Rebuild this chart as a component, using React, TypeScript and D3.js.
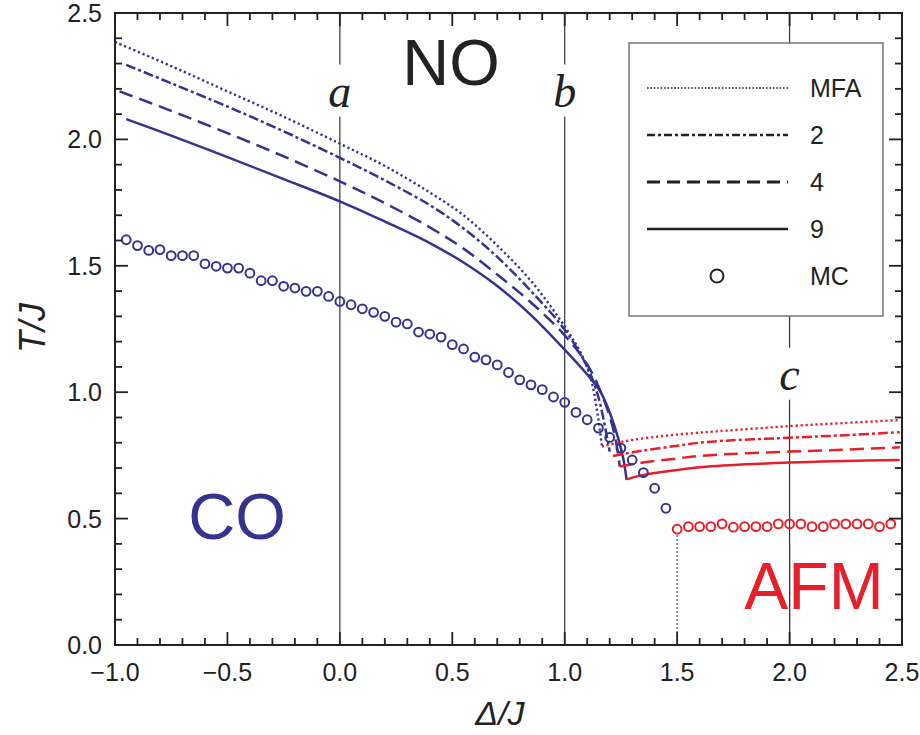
import React from 'react';
import * as d3 from 'd3';

// [Δ/J, T/J]
const mfaBlue = [[-1.0, 2.385], [-0.75, 2.29], [-0.5, 2.19], [-0.25, 2.09], [0, 1.983], [0.2, 1.895], [0.4, 1.79], [0.55, 1.7], [0.7, 1.58], [0.85, 1.44], [1.0, 1.26], [1.08, 1.14], [1.12, 1.04], [1.145, 0.92], [1.165, 0.79]];
const n2Blue = [[-0.95, 2.295], [-0.75, 2.222], [-0.5, 2.13], [-0.25, 2.032], [0, 1.927], [0.2, 1.838], [0.4, 1.74], [0.55, 1.648], [0.7, 1.535], [0.85, 1.4], [1.0, 1.247], [1.1, 1.1], [1.15, 0.98], [1.2, 0.765]];
const n4Blue = [[-0.98, 2.19], [-0.75, 2.113], [-0.5, 2.025], [-0.25, 1.933], [0, 1.834], [0.2, 1.748], [0.4, 1.652], [0.55, 1.568], [0.7, 1.465], [0.85, 1.355], [1.0, 1.225], [1.1, 1.11], [1.17, 0.98], [1.22, 0.84], [1.245, 0.706]];
const n9Blue = [[-0.95, 2.08], [-0.75, 2.015], [-0.5, 1.93], [-0.25, 1.843], [0, 1.755], [0.2, 1.675], [0.4, 1.59], [0.55, 1.513], [0.7, 1.42], [0.85, 1.305], [1.0, 1.168], [1.1, 1.07], [1.16, 1.0], [1.22, 0.87], [1.26, 0.74], [1.275, 0.653]];

const mfaRed = [[1.165, 0.785], [1.26, 0.805], [1.42, 0.825], [1.57, 0.838], [1.72, 0.848], [2.0, 0.866], [2.24, 0.878], [2.49, 0.89]];
const n2Red = [[1.215, 0.748], [1.334, 0.767], [1.5, 0.788], [1.63, 0.803], [2.0, 0.82], [2.25, 0.83], [2.49, 0.842]];
const n4Red = [[1.245, 0.706], [1.334, 0.72], [1.5, 0.738], [1.63, 0.75], [2.0, 0.765], [2.25, 0.773], [2.49, 0.782]];
const n9Red = [[1.275, 0.655], [1.35, 0.673], [1.48, 0.69], [1.63, 0.705], [2.0, 0.722], [2.25, 0.728], [2.49, 0.732]];

const mcBlue = [[-0.95, 1.603], [-0.9, 1.58], [-0.85, 1.561], [-0.8, 1.564], [-0.75, 1.54], [-0.7, 1.54], [-0.65, 1.54], [-0.6, 1.508], [-0.55, 1.498], [-0.5, 1.491], [-0.45, 1.491], [-0.4, 1.471], [-0.35, 1.441], [-0.3, 1.441], [-0.25, 1.419], [-0.2, 1.412], [-0.15, 1.399], [-0.1, 1.399], [-0.05, 1.379], [0.0, 1.359], [0.05, 1.346], [0.1, 1.33], [0.15, 1.316], [0.2, 1.3], [0.25, 1.277], [0.3, 1.27], [0.35, 1.238], [0.4, 1.23], [0.45, 1.218], [0.5, 1.188], [0.55, 1.171], [0.6, 1.139], [0.65, 1.128], [0.7, 1.108], [0.75, 1.078], [0.8, 1.049], [0.85, 1.029], [0.9, 1.01], [0.95, 0.981], [1.0, 0.96], [1.05, 0.92], [1.1, 0.891], [1.15, 0.858], [1.2, 0.821], [1.25, 0.779], [1.3, 0.732], [1.35, 0.682], [1.4, 0.62], [1.45, 0.541]];
const mcRed = [[1.5, 0.458], [1.55, 0.468], [1.6, 0.468], [1.65, 0.468], [1.7, 0.479], [1.75, 0.466], [1.8, 0.468], [1.85, 0.468], [1.9, 0.468], [1.95, 0.479], [2.0, 0.479], [2.05, 0.479], [2.1, 0.468], [2.15, 0.468], [2.2, 0.479], [2.25, 0.479], [2.3, 0.479], [2.35, 0.479], [2.4, 0.468], [2.45, 0.479]];

const xTicks = [-1.0, -0.5, 0.0, 0.5, 1.0, 1.5, 2.0, 2.5];
const yTicks = [0.0, 0.5, 1.0, 1.5, 2.0, 2.5];
// vertical guides, label baseline given in T/J units
const markers = [{ x: 0, label: 'a', y: 2.13 }, { x: 1, label: 'b', y: 2.13 }, { x: 2, label: 'c', y: 1.01 }];
const legendItems = ['MFA', '2', '4', '9', 'MC'];

const BLUE = '#35338f';
const RED = '#e5202b';
const INK = '#222';
const SANS = '"Liberation Sans", Arial, sans-serif';
const SERIF = '"Liberation Serif", "Times New Roman", serif';

const styles = [
  { dash: '2.2,2.8', width: 2.4, lw: 1.6, ldash: '1.6,1.8' },
  { dash: '10,3,3,3', width: 2.5, lw: 2.6, ldash: '8,3,3,3' },
  { dash: '14,7', width: 2.5, lw: 3, ldash: '13,7' },
  { dash: null, width: 2.5, lw: 2.5, ldash: null },
];

export default function App() {
  const x = d3.scaleLinear().domain([-1, 2.5]).range([115, 902]);
  const y = d3.scaleLinear().domain([0, 2.5]).range([645, 13]);
  const line = d3.line<number[]>().x((d) => x(d[0])).y((d) => y(d[1])).curve(d3.curveCatmullRom.alpha(0.5));

  const blue = [mfaBlue, n2Blue, n4Blue, n9Blue];
  const red = [mfaRed, n2Red, n4Red, n9Red];
  const [x0, x1] = x.range();
  const [y0, y1] = y.range();

  const xMinor = d3.range(-10, 26).map((i) => i / 10);
  const yMinor = d3.range(0, 26).map((i) => i / 10);
  const isMajor = (v: number) => Math.abs(v * 2 - Math.round(v * 2)) < 1e-6;

  const legX = 629, legY = 43, legW = 254, legH = 273;

  return (
    <svg width={920} height={735} style={{ position: 'absolute', left: 0, top: 0, background: '#fff' }}>
      {/* vertical guide lines */}
      {markers.map((m) => (
        <line key={m.label} x1={x(m.x)} x2={x(m.x)} y1={y1} y2={y0} stroke="#333" strokeWidth={1.2} />
      ))}
      <line x1={x(1.5)} x2={x(1.5)} y1={y(0)} y2={y(0.44)} stroke="#555" strokeWidth={1.2} strokeDasharray="2,2" />
      {markers.map((m) => (
        <g key={'l' + m.label}>
          <rect x={x(m.x) - 11} y={y(m.y) - 42} width={22} height={52} fill="#fff" />
          <text x={x(m.x)} y={y(m.y)} textAnchor="middle" fontFamily={SERIF} fontStyle="italic" fontSize={46} fill={INK}>{m.label}</text>
        </g>
      ))}

      {/* region labels */}
      <text x={451} y={85} textAnchor="middle" fontFamily={SANS} fontSize={65} fill={INK}>NO</text>
      <text x={237} y={539} textAnchor="middle" fontFamily={SANS} fontSize={65} fill={BLUE}>CO</text>
      <text x={814} y={609} textAnchor="middle" fontFamily={SANS} fontSize={66} fill={RED}>AFM</text>
      <line x1={x(2)} x2={x(2)} y1={y(0.4)} y2={y0} stroke="#333" strokeWidth={1.2} />

      {/* curves */}
      {blue.map((s, i) => (
        <path key={'b' + i} d={line(s) || ''} fill="none" stroke={BLUE} strokeWidth={styles[i].width} strokeDasharray={styles[i].dash || undefined} />
      ))}
      {red.map((s, i) => (
        <path key={'r' + i} d={line(s) || ''} fill="none" stroke={RED} strokeWidth={styles[i].width} strokeDasharray={styles[i].dash || undefined} />
      ))}
      {mcBlue.map((d, i) => (
        <circle key={'mb' + i} cx={x(d[0])} cy={y(d[1])} r={4.4} fill="none" stroke={BLUE} strokeWidth={2} />
      ))}
      {mcRed.map((d, i) => (
        <circle key={'mr' + i} cx={x(d[0])} cy={y(d[1])} r={4.4} fill="none" stroke={RED} strokeWidth={2} />
      ))}

      {/* legend */}
      <rect x={legX} y={legY} width={legW} height={legH} fill="#fff" stroke="#777" strokeWidth={1.5} />
      {legendItems.map((name, i) => {
        const ly = 88 + i * 47;
        return (
          <g key={name}>
            {i < 4 ? (
              <line x1={647} x2={788} y1={ly} y2={ly} stroke={INK} strokeWidth={styles[i].lw} strokeDasharray={styles[i].ldash || undefined} />
            ) : (
              <circle cx={717} cy={ly} r={6.5} fill="none" stroke={INK} strokeWidth={2} />
            )}
            <text x={810} y={ly + 9} fontFamily={SANS} fontSize={25} fill={INK}>{name}</text>
          </g>
        );
      })}

      {/* frame and ticks */}
      <rect x={x0} y={y1} width={x1 - x0} height={y0 - y1} fill="none" stroke={INK} strokeWidth={2} />
      {xMinor.map((v) => {
        const len = isMajor(v) ? 13 : 7;
        return (
          <g key={'xt' + v}>
            <line x1={x(v)} x2={x(v)} y1={y0} y2={y0 - len} stroke={INK} strokeWidth={1.8} />
            <line x1={x(v)} x2={x(v)} y1={y1} y2={y1 + len} stroke={INK} strokeWidth={1.8} />
          </g>
        );
      })}
      {yMinor.map((v) => {
        const len = isMajor(v) ? 13 : 7;
        return (
          <g key={'yt' + v}>
            <line x1={x0} x2={x0 + len} y1={y(v)} y2={y(v)} stroke={INK} strokeWidth={1.8} />
            <line x1={x1} x2={x1 - len} y1={y(v)} y2={y(v)} stroke={INK} strokeWidth={1.8} />
          </g>
        );
      })}
      {xTicks.map((v) => (
        <text key={'xl' + v} x={x(v)} y={681} textAnchor="middle" fontFamily={SANS} fontSize={25} fill={INK}>{d3.format('.1f')(v)}</text>
      ))}
      {yTicks.map((v) => (
        <text key={'yl' + v} x={102} y={y(v) + 9} textAnchor="end" fontFamily={SANS} fontSize={25} fill={INK}>{d3.format('.1f')(v)}</text>
      ))}

      {/* axis titles */}
      <text x={500} y={725} textAnchor="middle" fontFamily={SANS} fontStyle="italic" fontSize={34} fill={INK}>Δ/J</text>
      <text transform="translate(45,328) rotate(-90)" textAnchor="middle" fontFamily={SANS} fontStyle="italic" fontSize={36} fill={INK}>T/J</text>
    </svg>
  );
}
